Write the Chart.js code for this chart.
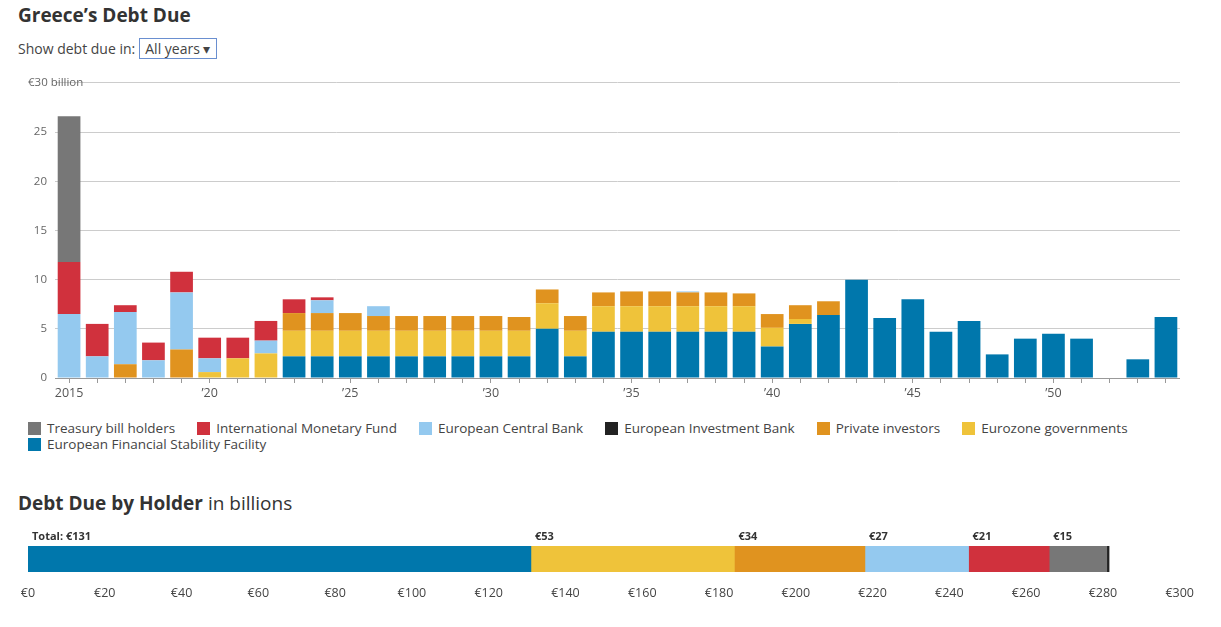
<!DOCTYPE html>
<html><head><meta charset="utf-8">
<script src="https://cdn.jsdelivr.net/npm/chart.js@4"></script>
<style>
body{margin:0;font-family:"Open Sans",sans-serif;color:#333;background:#fff;width:1221px;height:627px;position:relative;overflow:hidden}
h1{position:absolute;left:18px;top:2px;margin:0;font-size:19px;font-weight:700}
.sel{position:absolute;left:18px;top:38px;font-size:14px;color:#444}
.sel span{display:inline-block;border:1px solid #6a8fd0;padding:0 5px;margin-left:4px;font-size:14px}
#legend{position:absolute;left:28px;top:420px;width:1150px;font-size:13.5px;color:#444;line-height:16px}
#legend div{display:inline-block;margin-right:22px}
#legend i{display:inline-block;width:13px;height:13px;margin-right:6px;vertical-align:-2px}
h2{position:absolute;left:18px;top:490px;margin:0;font-size:19px;font-weight:700}
h2 span{font-weight:400}
</style></head><body>
<h1>Greece’s Debt Due</h1>
<div class="sel">Show debt due in:<span>All years ▾</span></div>
<div style="position:absolute;left:5px;top:68px;width:1175px;height:336px"><canvas id="debtChart"></canvas></div>
<div id="legend"></div>
<h2>Debt Due by Holder <span>in billions</span></h2>
<div style="position:absolute;left:0px;top:524px;width:1200px;height:80px"><canvas id="holderChart"></canvas></div>
<script>
const years = [];
for (let y = 2015; y <= 2054; y++) years.push(y);
const efsf    = [0,0,0,0,0,0,0,0,2.2,2.2,2.2,2.2,2.2,2.2,2.2,2.2,2.2,5.0,2.2,4.7,4.7,4.7,4.7,4.7,4.7,3.2,5.5,6.4,10.0,6.1,8.0,4.7,5.8,2.4,4.0,4.5,4.0,0,1.9,6.2];
const eurozone= [0,0,0,0,0,0.6,2.0,2.5,2.6,2.6,2.6,2.6,2.6,2.6,2.6,2.6,2.6,2.6,2.6,2.6,2.6,2.6,2.6,2.6,2.6,1.9,0.5,0,0,0,0,0,0,0,0,0,0,0,0,0];
const privateInv=[0,0,1.4,0,2.9,0,0,0,1.8,1.8,1.8,1.5,1.5,1.5,1.5,1.5,1.4,1.4,1.5,1.4,1.5,1.5,1.4,1.4,1.3,1.4,1.4,1.4,0,0,0,0,0,0,0,0,0,0,0,0];
const eib     = [0,0,0,0,0,0,0,0,0,0,0,0,0,0,0,0,0,0,0,0,0,0,0,0,0,0,0,0,0,0,0,0,0,0,0,0,0,0,0,0];
const ecb     = [6.5,2.2,5.3,1.8,5.8,1.4,0,1.3,0,1.3,0,1.0,0,0,0,0,0,0,0,0,0,0,0.1,0,0,0,0,0,0,0,0,0,0,0,0,0,0,0,0,0];
const imf     = [5.3,3.3,0.7,1.8,2.1,2.1,2.1,2.0,1.4,0.3,0,0,0,0,0,0,0,0,0,0,0,0,0,0,0,0,0,0,0,0,0,0,0,0,0,0,0,0,0,0];
const tbill   = [14.8,0,0,0,0,0,0,0,0,0,0,0,0,0,0,0,0,0,0,0,0,0,0,0,0,0,0,0,0,0,0,0,0,0,0,0,0,0,0,0];
const yTicks = [0,5,10,15,20,25,30];

const holderNames = ['European Financial Stability Facility','Eurozone governments','Private investors','European Central Bank','International Monetary Fund','Treasury bill holders','European Investment Bank'];
const holderTotals = [131,53,34,27,21,15,0.6];
const holderLabels = ['Total: €131','€53','€34','€27','€21','€15',''];
const colors = {efsf:'#0077ac',euro:'#efc33a',priv:'#e0931f',eib:'#222222',ecb:'#94c9ef',imf:'#d0313d',tbill:'#777777'};
const holderColors = [colors.efsf,colors.euro,colors.priv,colors.ecb,colors.imf,colors.tbill,colors.eib];

const legendItems = [['Treasury bill holders',colors.tbill],['International Monetary Fund',colors.imf],['European Central Bank',colors.ecb],['European Investment Bank',colors.eib],['Private investors',colors.priv],['Eurozone governments',colors.euro],['European Financial Stability Facility',colors.efsf]];
document.getElementById('legend').innerHTML = legendItems.map(l => '<div><i style="background:'+l[1]+'"></i>'+l[0]+'</div>').join('');

Chart.defaults.font.family = '"Open Sans", sans-serif';
Chart.defaults.color = '#555';

const ds = (label, data, c) => ({label, data, backgroundColor: c, borderWidth: 0, barPercentage: 0.85, categoryPercentage: 0.95});
new Chart(document.getElementById('debtChart'), {
  type: 'bar',
  data: {
    labels: years,
    datasets: [
      ds('European Financial Stability Facility', efsf, colors.efsf),
      ds('Eurozone governments', eurozone, colors.euro),
      ds('Private investors', privateInv, colors.priv),
      ds('European Investment Bank', eib, colors.eib),
      ds('European Central Bank', ecb, colors.ecb),
      ds('International Monetary Fund', imf, colors.imf),
      ds('Treasury bill holders', tbill, colors.tbill)
    ]
  },
  options: {
    responsive: true, maintainAspectRatio: false, animation: false,
    plugins: {legend: {display: false}, tooltip: {enabled: false}},
    scales: {
      x: {
        stacked: true,
        grid: {display: true, drawOnChartArea: false, drawTicks: true, tickLength: 5, color: '#999', offset: false},
        border: {color: '#999'},
        ticks: {autoSkip: false, maxRotation: 0, font: {size: 12.5},
          callback: function(v) { const y = years[v]; if (y === 2015) return '2015'; return y % 5 === 0 ? '\u2019' + String(y).slice(2) : ''; }}
      },
      y: {
        stacked: true, min: 0, max: 30,
        afterBuildTicks: a => { a.ticks = yTicks.map(v => ({value: v})); },
        afterFit: s => { s.width = 50; },
        grid: {color: '#ccc', lineWidth: 1, drawTicks: false},
        border: {display: false},
        ticks: {padding: 8, font: {size: 11.5}, color: '#666', callback: v => v === 30 ? '' : v}
      }
    }
  },
  plugins: [{
    id: 'topLabel',
    afterDraw(chart) {
      const ctx = chart.ctx, y = chart.scales.y.getPixelForValue(30);
      ctx.save();
      ctx.font = '11.5px "Open Sans", sans-serif';
      ctx.fillStyle = '#666';
      ctx.textBaseline = 'middle';
      ctx.fillText('€30 billion', 23, y);
      ctx.restore();
    }
  }]
});

new Chart(document.getElementById('holderChart'), {
  type: 'bar',
  data: {
    labels: ['All'],
    datasets: holderNames.map((n, i) => ({label: n, data: [holderTotals[i]], backgroundColor: holderColors[i], borderWidth: 0, barPercentage: 1, categoryPercentage: 1}))
  },
  options: {
    indexAxis: 'y', responsive: true, maintainAspectRatio: false, animation: false,
    layout: {padding: {top: 22, bottom: 6, right: 16, left: 28}},
    plugins: {legend: {display: false}, tooltip: {enabled: false}},
    scales: {
      x: {stacked: true, min: 0, max: 300, grid: {display: false}, border: {display: false},
        ticks: {stepSize: 20, padding: 6, font: {size: 12.5}, color: '#444', callback: v => '€' + v}},
      y: {stacked: true, display: false, afterFit: s => { s.width = 0; }}
    }
  },
  plugins: [{
    id: 'segLabels',
    afterDatasetsDraw(chart) {
      const ctx = chart.ctx;
      ctx.save();
      ctx.font = 'bold 11px "Open Sans", sans-serif';
      ctx.fillStyle = '#333';
      ctx.textBaseline = 'bottom';
      chart.data.datasets.forEach((d, i) => {
        const bar = chart.getDatasetMeta(i).data[0];
        ctx.fillText(holderLabels[i], bar.base + 4, bar.y - bar.height / 2 - 4);
      });
      ctx.restore();
    }
  }]
});
</script>
</body></html>
